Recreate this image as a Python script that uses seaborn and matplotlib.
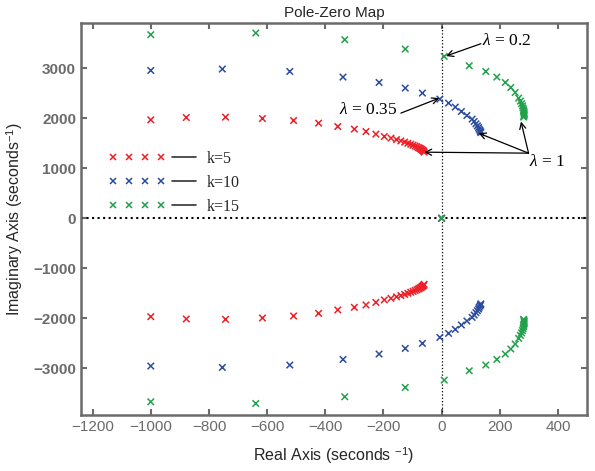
import numpy as np
import pandas as pd
import matplotlib
matplotlib.use("Agg")
import matplotlib.pyplot as plt
import seaborn as sns
from matplotlib.lines import Line2D
from matplotlib.legend_handler import HandlerBase

# upper-half closed-loop poles (real, imag); lower half is the conjugate
re_k5 = [-1000, -878, -743, -616, -509, -423, -357, -300, -260, -226, -197, -174,
         -155, -140, -127, -116, -106, -98, -91, -85, -80, -76, -72, -69, -66, -64, -62, -60]
im_k5 = [1966, 2012, 2020, 1992, 1952, 1900, 1832, 1780, 1732, 1680, 1632, 1600,
         1570, 1545, 1520, 1498, 1478, 1460, 1443, 1428, 1413, 1400, 1387, 1375, 1362, 1350, 1340, 1320]

re_k10 = [-1000, -754, -522, -339, -215, -125, -66, -6, 24, 47, 68, 87, 105,
          112, 118, 123, 127, 129, 132, 134, 135]
im_k10 = [2952, 2980, 2932, 2820, 2712, 2600, 2500, 2380, 2300, 2220, 2132, 2052, 1980,
          1933, 1886, 1846, 1813, 1780, 1753, 1730, 1710]

re_k15 = [-1000, -639, -333, -125, 9, 95, 152, 190, 219, 238, 253, 265,
          271, 275, 278, 280, 282, 283, 284, 284, 284, 283, 282]
im_k15 = [3666, 3700, 3566, 3380, 3233, 3046, 2932, 2820, 2712, 2612, 2512, 2400,
          2340, 2290, 2245, 2205, 2170, 2140, 2110, 2085, 2060, 2040, 2020]

gains = ["k=5", "k=10", "k=15"]
colors = ["#ED2027", "#2C4C9E", "#22A04B"]

rows = []
for g, re, im in zip(gains, [re_k5, re_k10, re_k15], [im_k5, im_k10, im_k15]):
    for r, i in zip(re, im):
        rows.append((g, r, i))
        rows.append((g, r, -i))
    rows.append((g, 0, 0))  # zero at the origin
poles = pd.DataFrame(rows, columns=["k", "re", "im"])

sns.set_style("ticks")
plt.rcParams["font.family"] = ["Liberation Sans", "DejaVu Sans"]
plt.rcParams["mathtext.fontset"] = "custom"
plt.rcParams["mathtext.rm"] = "Liberation Sans"
plt.rcParams["mathtext.it"] = "Liberation Serif:italic"

fig = plt.figure(figsize=(5.95, 4.71), dpi=100)
ax = fig.add_axes([81 / 595, 56 / 471, 506 / 595, 392 / 471])

ax.axvline(0, color="k", ls=":", lw=0.9, zorder=1)
ax.axhline(0, color="k", ls=":", lw=1.5, zorder=1)

sns.scatterplot(data=poles, x="re", y="im", hue="k", palette=colors,
                marker="x", s=22, linewidth=1.1, legend=False, ax=ax, zorder=3)

ax.set_xlim(-1240, 500)
ax.set_ylim(-3930, 3900)
ax.set_xticks(np.arange(-1200, 401, 200))
ax.set_yticks(np.arange(-3000, 3001, 1000))
gray = "#6b6b6b"
ax.tick_params(direction="in", top=True, right=True, length=4, width=1.5,
               color=gray, labelcolor=gray, labelsize=11)
for lab in ax.get_yticklabels():
    lab.set_fontweight("bold")
for s in ax.spines.values():
    s.set_color(gray)
    s.set_linewidth(1.8)

ax.set_title("Pole-Zero Map", fontsize=11, pad=4)
ax.set_xlabel("Real Axis (seconds $^{-1}$)", fontsize=11.5, labelpad=8)
ax.set_ylabel("Imaginary Axis (seconds$^{-1}$)", fontsize=11.5, labelpad=6)

# annotations
serif = dict(family="Liberation Serif", fontsize=12.5, color="k")
arrow = dict(arrowstyle="->", color="k", lw=0.9, shrinkA=0, shrinkB=0, mutation_scale=11)
ax.text(139, 3532, r"$\lambda$ = 0.2", ha="left", va="center", **serif)
ax.annotate("", xy=(15, 3240), xytext=(135, 3486), arrowprops=arrow)
ax.text(-252, 2166, r"$\lambda$ = 0.35", ha="center", va="center", **serif)
ax.annotate("", xy=(-8, 2400), xytext=(-140, 2100), arrowprops=arrow)
ax.text(300, 1130, r"$\lambda$ = 1", ha="left", va="center", **serif)
for tip in [(-60, 1320), (127, 1700), (273, 1932)]:
    ax.annotate("", xy=tip, xytext=(299, 1300), arrowprops=arrow)


class MarksAndLine(HandlerBase):
    def create_artists(self, legend, orig_handle, xdescent, ydescent,
                       width, height, fontsize, trans):
        y = height / 2 - ydescent
        xs = np.linspace(0, 0.58, 4) * width - xdescent
        marks = Line2D(xs, [y] * 4, ls="none", marker="x", ms=4.5, mew=1.1,
                       color=orig_handle.get_color())
        line = Line2D([0.71 * width - xdescent, width - xdescent], [y, y],
                      color="#333333", lw=1.2)
        marks.set_transform(trans)
        line.set_transform(trans)
        return [marks, line]


handles = [Line2D([], [], color=c) for c in colors]
ax.legend(handles, gains, handler_map={Line2D: MarksAndLine()},
          loc="center left", bbox_to_anchor=(0.063, 0.593), frameon=False,
          borderpad=0, borderaxespad=0, handlelength=5.2, handletextpad=0.7,
          labelspacing=0.5, prop=dict(family="Liberation Serif", size=11.5))

fig.savefig("out.png", dpi=100)
